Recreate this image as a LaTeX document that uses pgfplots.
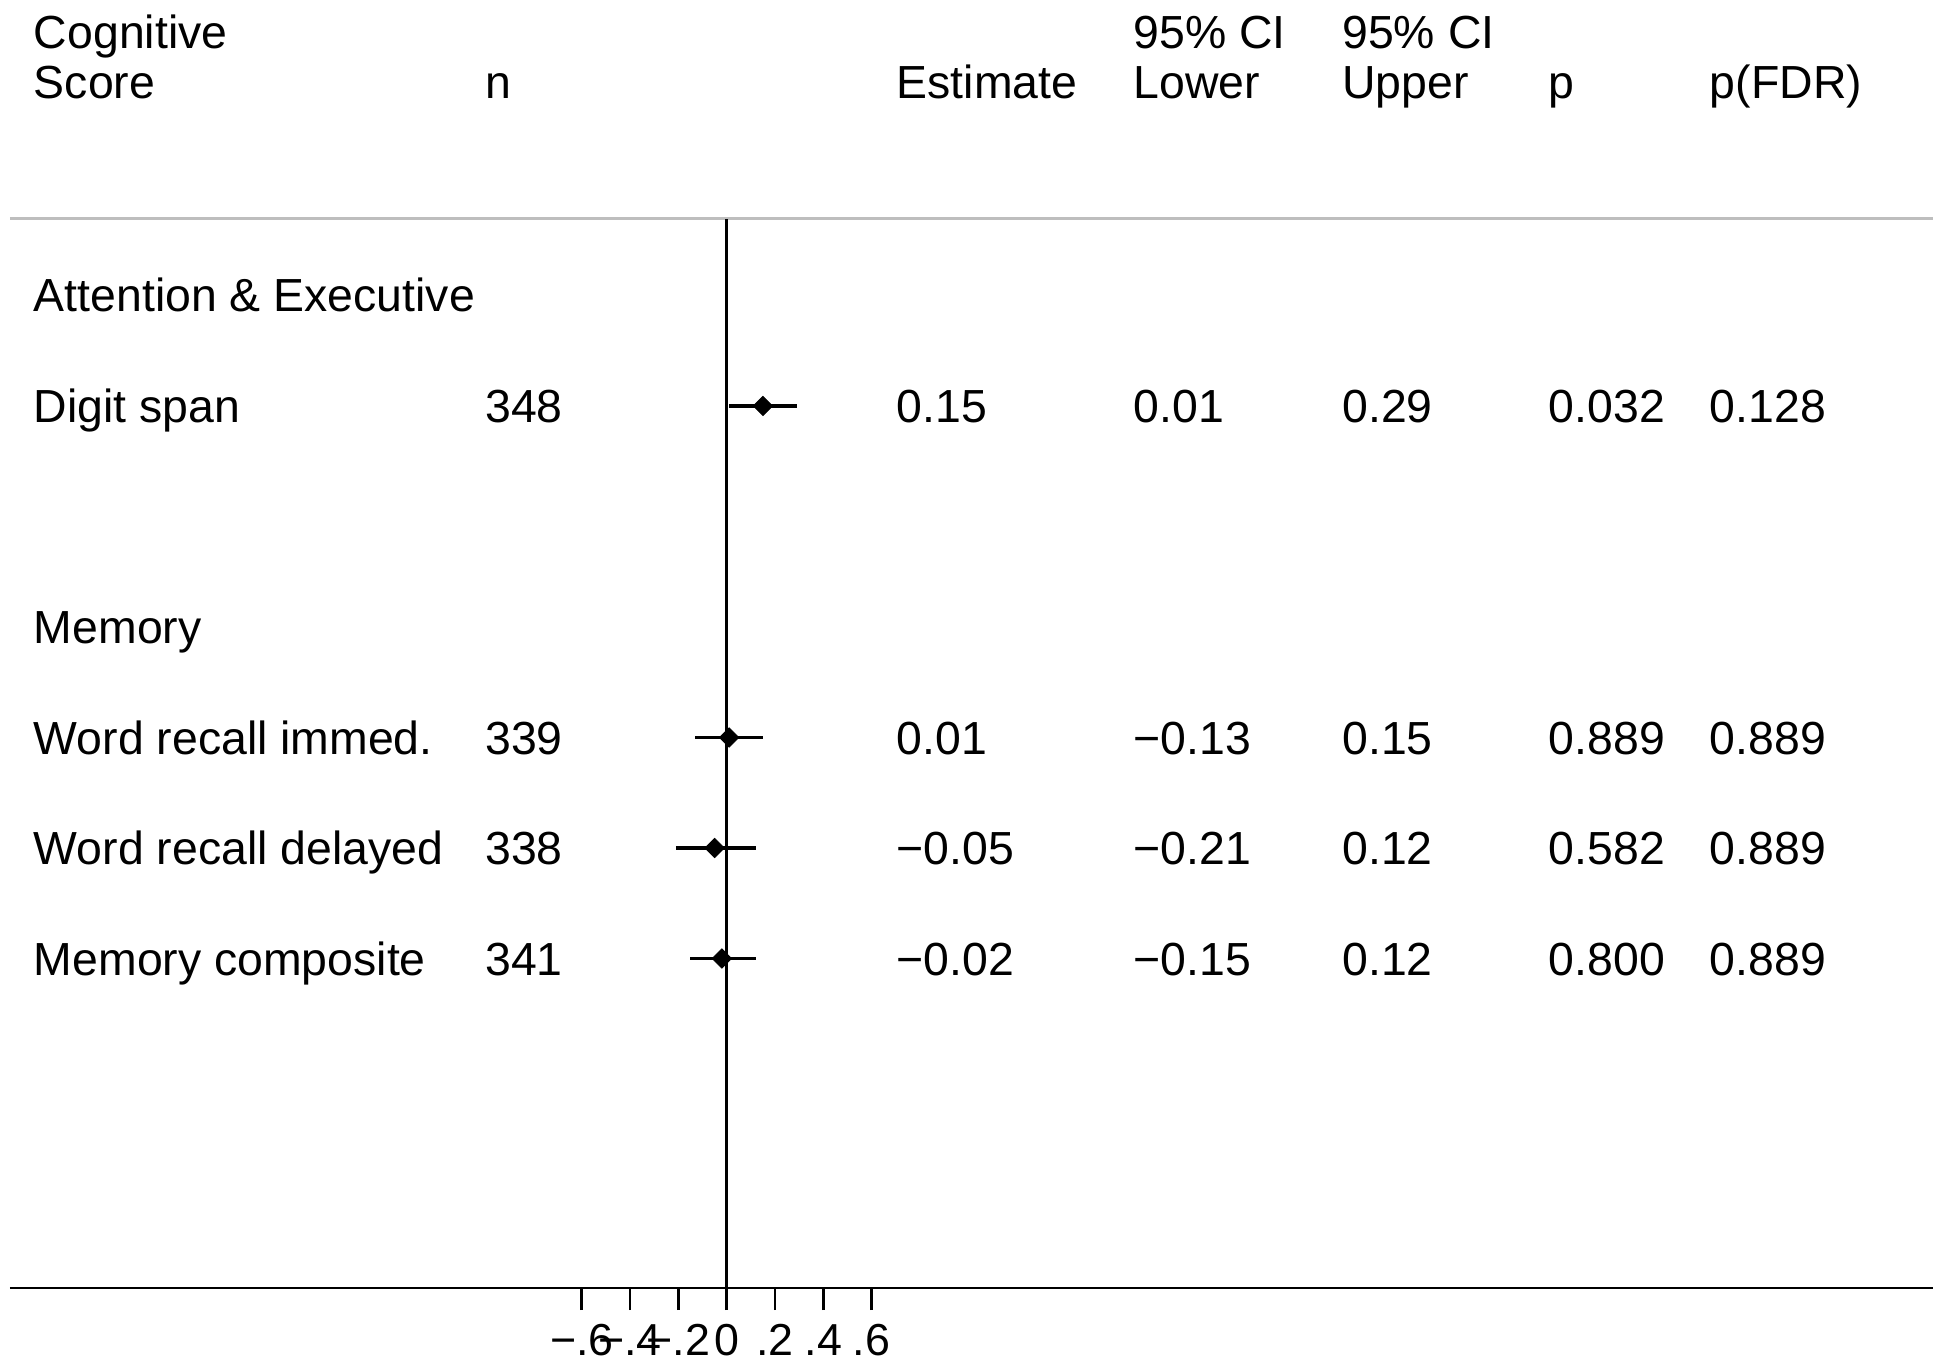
\documentclass[border=0pt]{standalone}
\usepackage{pgfplots}
\pgfplotsset{compat=1.18}
\usepackage{pgfplotstable}
\usepackage{fontspec}
\setmainfont{Liberation Sans}
\definecolor{rulegray}{RGB}{190,190,190}

\pgfplotstableread{
y      est    lo     hi
-406   0.15   0.01   0.29
-737.5 0.01  -0.13   0.15
-848  -0.05  -0.21   0.12
-958.5 -0.02 -0.15   0.12
}\est

% column x positions in data units
\def\cA{-2.872}
\def\cB{-1.003}
\def\cC{0.701}
\def\cD{1.682}
\def\cE{2.546}
\def\cF{3.401}
\def\cG{4.068}
\newcommand{\T}[3]{\node[anchor=base west,inner sep=0pt,font=\fontsize{11.6}{13}\selectfont] at (axis cs:#1,#2) {#3};}

\begin{document}
\begin{tikzpicture}
\begin{axis}[
  name=ax,
  scale only axis,
  width=483.25pt, height=322pt,
  xmin=-3.0091, xmax=4.9950,
  ymin=-1288, ymax=0,
  clip=false,
  axis line style={draw=none},
  ytick=\empty,
  xtick={-0.6,-0.4,-0.2,0,0.2,0.4,0.6},
  xticklabels={−.6,−.4,−.2,0,.2,.4,.6},
  xtick pos=lower,
  tick align=outside,
  major tick length=5.5pt,
  tick style={black, line width=0.675pt},
  xticklabel style={anchor=base, yshift=-11.25pt, inner sep=0pt, font=\fontsize{11.2}{12}\selectfont},
]
% gray rule under header
\draw[rulegray, line width=0.75pt] (axis cs:-2.968,-219) -- (axis cs:4.995,-219);
% x axis line
\draw[black, line width=0.7pt] (axis cs:-2.968,-1288) -- (axis cs:4.995,-1288);
% null line
\draw[black, line width=0.7pt] (axis cs:0,-219) -- (axis cs:0,-1288);

% confidence intervals
\addplot[black, line width=0.85pt, mark=none] coordinates {(0.01,-406) (0.29,-406)};
\addplot[black, line width=0.85pt, mark=none] coordinates {(-0.13,-737.5) (0.15,-737.5)};
\addplot[black, line width=0.85pt, mark=none] coordinates {(-0.21,-848) (0.12,-848)};
\addplot[black, line width=0.85pt, mark=none] coordinates {(-0.15,-958.5) (0.12,-958.5)};
% point estimates
\addplot[black, only marks, mark=square*, mark size=1.7pt,
  mark options={rotate=45, line width=0.2pt, fill=black}]
  table[x=est, y=y] {\est};

% header
\T{\cA}{-48.3}{Cognitive}
\T{\cA}{-98.3}{Score}
\T{\cB}{-98.3}{n}
\T{\cC}{-98.3}{Estimate}
\T{\cD}{-48.3}{95\% CI}
\T{\cD}{-98.3}{Lower}
\T{\cE}{-48.3}{95\% CI}
\T{\cE}{-98.3}{Upper}
\T{\cF}{-98.3}{p}
\T{\cG}{-98.3}{p(FDR)}
% groups
\T{\cA}{-312}{Attention \& Executive}
\T{\cA}{-643.5}{Memory}
% rows
\T{\cA}{-422.5}{Digit span}
\T{\cB}{-422.5}{348}
\T{\cC}{-422.5}{0.15}
\T{\cD}{-422.5}{0.01}
\T{\cE}{-422.5}{0.29}
\T{\cF}{-422.5}{0.032}
\T{\cG}{-422.5}{0.128}

\T{\cA}{-754}{Word recall immed.}
\T{\cB}{-754}{339}
\T{\cC}{-754}{0.01}
\T{\cD}{-754}{−0.13}
\T{\cE}{-754}{0.15}
\T{\cF}{-754}{0.889}
\T{\cG}{-754}{0.889}

\T{\cA}{-864.5}{Word recall delayed}
\T{\cB}{-864.5}{338}
\T{\cC}{-864.5}{−0.05}
\T{\cD}{-864.5}{−0.21}
\T{\cE}{-864.5}{0.12}
\T{\cF}{-864.5}{0.582}
\T{\cG}{-864.5}{0.889}

\T{\cA}{-975}{Memory composite}
\T{\cB}{-975}{341}
\T{\cC}{-975}{−0.02}
\T{\cD}{-975}{−0.15}
\T{\cE}{-975}{0.12}
\T{\cF}{-975}{0.800}
\T{\cG}{-975}{0.889}
\end{axis}
\pgfresetboundingbox
\path[use as bounding box] (ax.north west) rectangle ([yshift=-18.25pt]ax.south east);
\end{tikzpicture}
\end{document}
